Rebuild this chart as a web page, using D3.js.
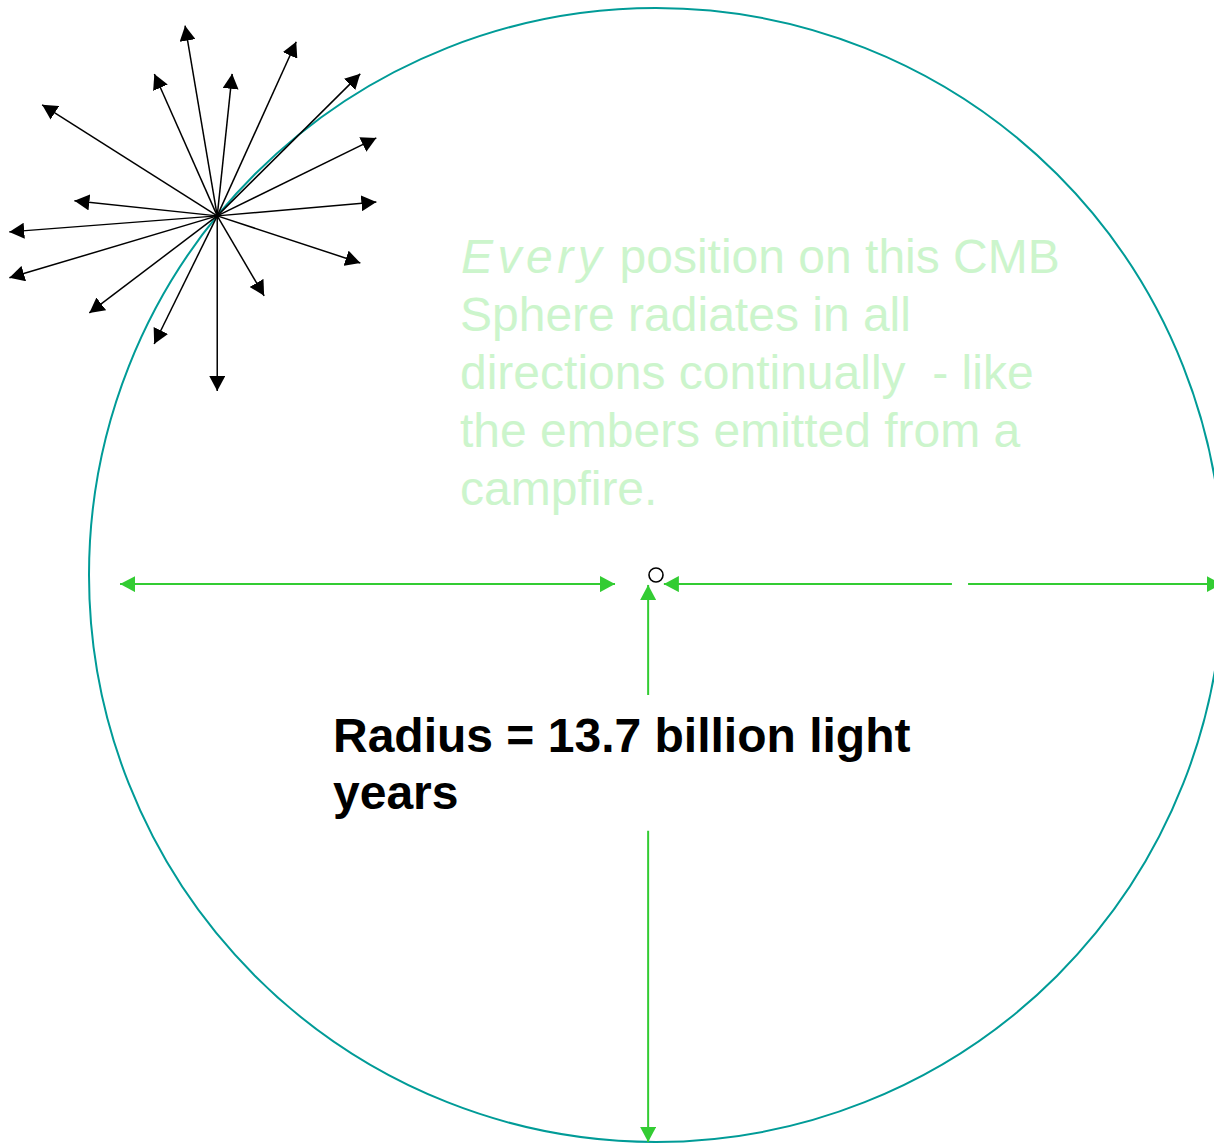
<!DOCTYPE html>
<html>
<head>
<meta charset="utf-8">
<script src="https://cdn.jsdelivr.net/npm/d3@7"></script>
<style>
  html, body { margin: 0; padding: 0; background: #ffffff; overflow: hidden; }
  svg { display: block; }
  text { white-space: pre; }
</style>
</head>
<body>
<svg id="chart" width="1214" height="1147"></svg>
<script>
// ---- data (diagram units: billion light years, sphere radius = 13.7) ----
const sphereRadius = 13.7;
const radiusLabel = ["Radius = 13.7 billion light", "years"];
const noteItalic = "Every";
const noteLines = [" position on this CMB", "Sphere radiates in all", "directions continually  - like", "the embers emitted from a", "campfire."];

// emitting point on the sphere (angle in degrees, measured counter-clockwise from +x)
const emitterAngle = 140.7;
// rays from the emitting point: direction (deg) and length (units)
const rayAngles  = [99.6, 113.9, 84.0, 65.6, 44.8, 26.1, 5.0, -18.2, -59.6, -90, -116.2, -142.8, -163.4, -175.6, 174.0, 147.6];
const rayLengths = [4.66, 3.75, 3.45, 4.62, 4.87, 4.28, 3.86, 3.64, 2.24, 4.23, 3.45, 3.88, 5.24, 5.04, 3.47, 5.01];

// green radius arrows: [x1, y1, x2, y2, headStart, headEnd]
const radiusArrows = [
  [-0.99, -0.22, -12.95, -0.22, true,  true ],
  [ 0.19, -0.22,   7.15, -0.22, true,  false],
  [ 7.54, -0.22,  13.67, -0.22, false, true ],
  [-0.19, -0.24,  -0.19, -2.90, true,  false],
  [-0.19, -6.18,  -0.19, -13.70, false, true ]
];

// ---- layout ----
const W = 1214, H = 1147;
const cx = 656, cy = 575, R = 567;
const x = d3.scaleLinear().domain([-sphereRadius, sphereRadius]).range([cx - R, cx + R]);
const y = d3.scaleLinear().domain([sphereRadius, -sphereRadius]).range([cy - R, cy + R]);

const svg = d3.select("#chart");
svg.append("rect").attr("width", W).attr("height", H).attr("fill", "#ffffff");

const defs = svg.append("defs");
function marker(id, color) {
  defs.append("marker")
    .attr("id", id)
    .attr("viewBox", "0 -8 15 16")
    .attr("refX", 15).attr("refY", 0)
    .attr("markerWidth", 15).attr("markerHeight", 16)
    .attr("markerUnits", "userSpaceOnUse")
    .attr("orient", "auto-start-reverse")
    .append("path").attr("d", "M0,-8L15,0L0,8Z").attr("fill", color);
}
marker("headBlack", "#000000");
marker("headGreen", "#33cc33");

// sphere
svg.append("circle")
  .attr("cx", x(0)).attr("cy", y(0))
  .attr("r", x(sphereRadius) - x(0))
  .attr("fill", "none")
  .attr("stroke", "#009b97")
  .attr("stroke-width", 2);

// note text
const note = svg.append("text")
  .attr("x", 461).attr("y", 273)
  .attr("font-family", "'Liberation Sans', Arial, sans-serif")
  .attr("font-size", 48)
  .attr("fill", "#ccf5cc");
note.append("tspan").attr("font-style", "italic").attr("letter-spacing", 4.5).text(noteItalic);
noteLines.forEach((line, i) => {
  const t = note.append("tspan").text(line);
  if (i > 0) t.attr("x", 460).attr("y", 273 + i * 58);
});

// radius label
const lab = svg.append("text")
  .attr("font-family", "'Liberation Sans', Arial, sans-serif")
  .attr("font-size", 48)
  .attr("font-weight", "bold")
  .attr("fill", "#000000");
radiusLabel.forEach((line, i) => {
  lab.append("tspan").attr("x", 333).attr("y", 752 + i * 57).text(line);
});

// green radius arrows
svg.selectAll("line.radius")
  .data(radiusArrows)
  .join("line")
  .attr("class", "radius")
  .attr("x1", d => x(d[0])).attr("y1", d => y(d[1]))
  .attr("x2", d => x(d[2])).attr("y2", d => y(d[3]))
  .attr("stroke", "#33cc33")
  .attr("stroke-width", 2)
  .attr("marker-start", d => d[4] ? "url(#headGreen)" : null)
  .attr("marker-end", d => d[5] ? "url(#headGreen)" : null);

// centre point
svg.append("circle")
  .attr("cx", x(0)).attr("cy", y(0)).attr("r", 7)
  .attr("fill", "#ffffff")
  .attr("stroke", "#000000")
  .attr("stroke-width", 1.6);

// emitter rays
const ex = sphereRadius * Math.cos(emitterAngle * Math.PI / 180);
const ey = sphereRadius * Math.sin(emitterAngle * Math.PI / 180);
const rays = rayAngles.map((a, i) => ({
  x2: ex + rayLengths[i] * Math.cos(a * Math.PI / 180),
  y2: ey + rayLengths[i] * Math.sin(a * Math.PI / 180)
}));
svg.selectAll("line.ray")
  .data(rays)
  .join("line")
  .attr("class", "ray")
  .attr("x1", x(ex)).attr("y1", y(ey))
  .attr("x2", d => x(d.x2)).attr("y2", d => y(d.y2))
  .attr("stroke", "#000000")
  .attr("stroke-width", 1.5)
  .attr("marker-end", "url(#headBlack)");
</script>
</body>
</html>
